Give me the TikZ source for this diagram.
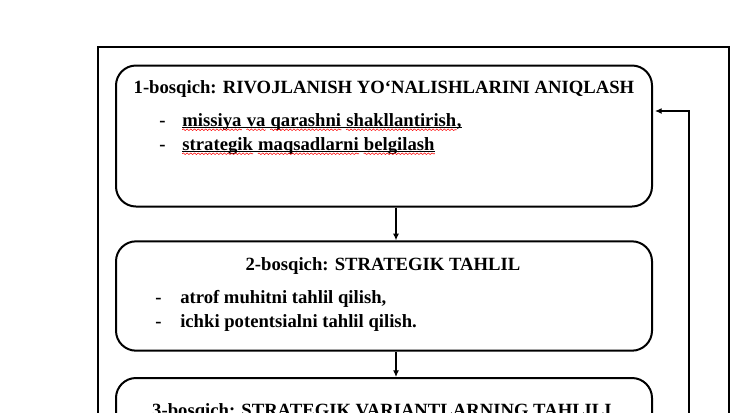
\documentclass[tikz,border=0pt]{standalone}
\usepackage{fontspec}
\setmainfont{Liberation Serif}
\usepackage{xcolor}
\usepackage{tikz}
\usetikzlibrary{calc,arrows.meta,decorations.pathmorphing}
\newcommand{\spellword}[3]{
\node[item] at ([xshift=3.5pt]#2.base east) (#1) {#3};
\draw[spell] ([yshift=-2.8pt]#1.base west) -- ([yshift=-2.8pt]#1.base east);
}
\newcommand{\underrule}[2]{
\draw[line width=0.6pt] ([yshift=-1.3pt]#1.base west) -- ([yshift=-1.3pt]#2.base east);
}

\begin{document}
\begin{tikzpicture}[x=0.75pt, y=-0.75pt,
  font=\fontsize{14}{16}\selectfont\bfseries,
  stagebox/.style={draw, line width=1.5pt, rounded corners=15pt, minimum width=402pt},
  item/.style={anchor=base west, inner sep=0pt},
  spell/.style={red, line width=0.4pt, decorate, decoration={snake, amplitude=0.6pt, segment length=2.8pt}},
  arr/.style={line width=0.9pt, -{Latex[length=5pt,width=4.5pt]}}]
\useasboundingbox (0, 0) rectangle (742, 412);
\clip (0, 0) rectangle (742, 412);
% outer frame
\draw[line width=1.5pt] (98, 47) rectangle (729, 470);
% stage boxes
\node[stagebox, minimum height=105.75pt] at (384, 136) (s1) {};
\node[stagebox, minimum height=82pt] at (384, 296) (s2) {};
\node[stagebox, minimum height=106.5pt] at (384, 449) (s3) {};
% titles
\node[anchor=base] at (384, 93) (t1) {1-bosqich: RIVOJLANISH YO‘NALISHLARINI ANIQLASH};
\node[anchor=base] at (383, 270) (t2) {2-bosqich: STRATEGIK TAHLIL};
\node[anchor=base] at (382, 416) (t3) {3-bosqich: STRATEGIK VARIANTLARNING TAHLILI};
% points of stage 1
\node[item] at (159, 126) (d11) {-};
\node[item] at (159, 150) (d12) {-};
\coordinate (p11) at (177.5, 126);
\coordinate (p12) at (177.5, 150);
\spellword{w1}{p11}{missiya}
\spellword{w2}{w1}{va}
\spellword{w3}{w2}{qarashni}
\spellword{w4}{w3}{shakllantirish}
\node[item] at (w4.base east) (w5) {,};
\spellword{v1}{p12}{strategik}
\spellword{v2}{v1}{maqsadlarni}
\spellword{v3}{v2}{belgilash}
\underrule{w1}{w5}
\underrule{v1}{v3}
% points of stage 2
\node[item] at (155, 303) (d21) {-};
\node[item] at (155, 327) (d22) {-};
\node[item] at (180, 303) (p21) {atrof muhitni tahlil qilish,};
\node[item] at (180, 327) (p22) {ichki potentsialni tahlil qilish.};
% connectors
\coordinate (ax) at (396, 0);
\coordinate (fby) at (0, 111);
\coordinate (back) at (689, 470);
\draw[arr] (s1.south -| ax) -- (s2.north -| ax);
\draw[arr] (s2.south -| ax) -- (s3.north -| ax);
\draw[arr] (back) |- ([xshift=1.5pt]s1.east |- fby);
\end{tikzpicture}
\end{document}
